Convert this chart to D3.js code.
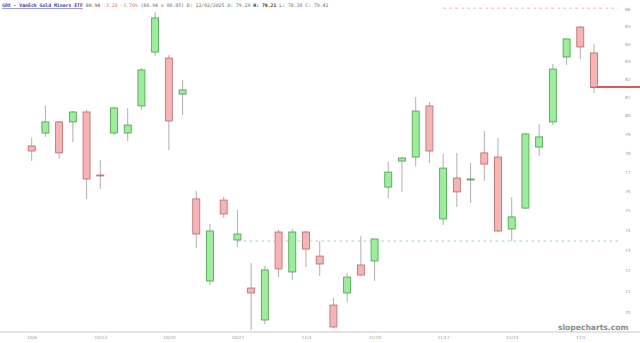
<!DOCTYPE html>
<html>
<head>
<meta charset="utf-8">
<script src="https://cdn.jsdelivr.net/npm/d3@7"></script>
<style>
  html, body { margin: 0; padding: 0; background: #fff; }
  svg { display: block; }
</style>
</head>
<body>
<script>
// chart size
let width = 640;
let height = 343;

// daily candles
let dates = [
  "10/6","10/7","10/8","10/9","10/10",
  "10/13","10/14","10/15","10/16","10/17",
  "10/20","10/21","10/22","10/23","10/24",
  "10/27","10/28","10/29","10/30","10/31",
  "11/3","11/4","11/5","11/6","11/7",
  "11/10","11/11","11/12","11/13","11/14",
  "11/17","11/18","11/19","11/20","11/21",
  "11/24","11/25","11/26","11/28","11/29",
  "12/1","12/2"
];
let opens  = [78.36,79.05,79.65,79.65,80.19,76.83,79.05,79.05,80.52,83.52,83.18,81.17,75.59,71.49,75.53,73.51,71.15,69.62,73.91,71.93,73.91,72.71,70.33,70.91,72.27,72.47,76.20,77.56,77.77,80.52,74.57,76.67,76.62,77.99,77.77,74.06,75.12,78.30,79.65,83.24,84.95,83.47];
let highs  = [78.78,80.52,79.70,80.24,80.30,77.62,80.46,80.41,82.62,85.82,83.35,81.95,76.00,74.31,75.69,75.02,72.37,72.22,74.01,74.06,73.96,73.46,70.67,71.88,73.71,73.58,77.51,77.77,81.01,80.73,77.93,77.99,77.46,79.16,78.78,75.69,79.05,79.54,82.85,84.30,85.01,83.98];
let lows   = [77.56,78.84,77.67,78.57,75.59,76.10,78.94,78.62,80.30,83.30,78.14,80.02,73.11,71.30,74.62,73.16,69.15,69.43,71.68,71.54,72.17,71.73,69.24,70.48,71.75,71.49,75.64,75.95,77.30,77.46,74.26,75.18,75.38,76.52,73.91,73.46,75.08,77.83,79.48,82.79,83.13,81.23];
let closes = [78.09,79.65,77.99,80.19,76.62,76.80,80.41,79.48,82.51,85.48,79.70,81.40,73.81,73.96,74.82,73.81,70.91,72.03,72.08,73.91,73.06,72.32,69.29,71.68,71.78,73.56,76.98,77.72,80.24,78.09,77.19,75.95,76.62,77.40,73.96,74.67,79.00,78.84,82.56,84.27,83.81,81.56];

// right axis ticks and week labels
let priceTicks = d3.range(70, 87);
let weekLabels = ["10/6","10/13","10/20","10/27","11/3","11/10","11/17","11/24","12/1"];

// horizontal levels
let lastPrice = closes[closes.length - 1];
let dashedLevels = [
  { value: 86.05, from: "11/17", color: "#f2b8a8" },
  { value: 73.46, from: "10/27", color: "#a8dca8" }
];

let data = dates.map((d, i) => ({
  date: d, open: opens[i], high: highs[i], low: lows[i], close: closes[i]
}));

let svg = d3.select("body").append("svg")
  .attr("width", width)
  .attr("height", height);

// scales
let x = d3.scalePoint()
  .domain(dates)
  .range([31.7, 594]);

let y = d3.scaleLog()
  .domain([70, 86])
  .range([312, 9]);

// dashed level lines
svg.selectAll("line.level")
  .data(dashedLevels)
  .enter().append("line")
  .attr("class", "level")
  .attr("x1", d => x(d.from))
  .attr("x2", 618)
  .attr("y1", d => y(d.value))
  .attr("y2", d => y(d.value))
  .attr("stroke", d => d.color)
  .attr("stroke-width", 1)
  .attr("stroke-dasharray", "3,3");

// bottom axis
let xAxis = d3.axisBottom(x)
  .tickValues(weekLabels)
  .tickSize(0)
  .tickPadding(4);

let gx = svg.append("g")
  .attr("transform", "translate(0,332)")
  .call(xAxis);
gx.select(".domain")
  .attr("d", "M0,0H" + width)
  .attr("stroke", "#c8c8c8");
gx.selectAll("text")
  .attr("fill", "#999")
  .style("font-family", "DejaVu Sans, sans-serif")
  .style("font-size", "4.3px");

// right axis
let yAxis = d3.axisRight(y)
  .tickValues(priceTicks)
  .tickFormat(d3.format("d"))
  .tickSize(0)
  .tickPadding(0);

let gy = svg.append("g")
  .attr("transform", "translate(625,0)")
  .call(yAxis);
gy.select(".domain").remove();
gy.selectAll("text")
  .attr("fill", "#999")
  .style("font-family", "DejaVu Sans, sans-serif")
  .style("font-size", "4.3px");

// last price line
svg.append("line")
  .attr("x1", x(dates[dates.length - 1]) - 3.5)
  .attr("x2", width)
  .attr("y1", y(lastPrice))
  .attr("y2", y(lastPrice))
  .attr("stroke", "#cc2222")
  .attr("stroke-width", 1.3);

// candles
let bodyW = 7;
let candles = svg.append("g").selectAll("g")
  .data(data)
  .enter().append("g");

candles.append("line")
  .attr("x1", d => x(d.date))
  .attr("x2", d => x(d.date))
  .attr("y1", d => y(d.high))
  .attr("y2", d => y(d.low))
  .attr("stroke", "#b0b0b0")
  .attr("stroke-width", 1);

candles.append("rect")
  .attr("x", d => x(d.date) - bodyW / 2)
  .attr("y", d => y(Math.max(d.open, d.close)))
  .attr("width", bodyW)
  .attr("height", d => Math.max(1, y(Math.min(d.open, d.close)) - y(Math.max(d.open, d.close))))
  .attr("fill", d => d.close >= d.open ? "#9bee9b" : "#f7b4b4")
  .attr("stroke", d => d.close >= d.open ? "#4c9c4c" : "#b56a6a")
  .attr("stroke-width", 0.8);

// header line
let header = svg.append("text")
  .attr("x", 2)
  .attr("y", 7)
  .style("font-family", "DejaVu Sans Mono, monospace")
  .style("font-size", "4.8px");
header.append("tspan")
  .attr("fill", "#3a3aa8")
  .attr("font-weight", "bold")
  .attr("text-decoration", "underline")
  .text("GDX - VanEck Gold Miners ETF");
header.append("tspan").attr("fill", "#444").text(" 80.94");
header.append("tspan").attr("fill", "#e07060").text(" -3.28 -3.76%");
header.append("tspan").attr("fill", "#666").text(" (80.94 x 80.85) D: 12/02/2025 O: 79.19");
header.append("tspan").attr("fill", "#333").attr("font-weight", "bold").text(" H: 79.21");
header.append("tspan").attr("fill", "#666").text(" L: 78.38 C: 79.41");

// watermark
svg.append("text")
  .attr("x", 558)
  .attr("y", 330)
  .attr("fill", "#8a8a8a")
  .style("font-family", "DejaVu Sans, sans-serif")
  .style("font-size", "7.6px")
  .style("font-weight", "bold")
  .text("slopecharts.com");
</script>
</body>
</html>
